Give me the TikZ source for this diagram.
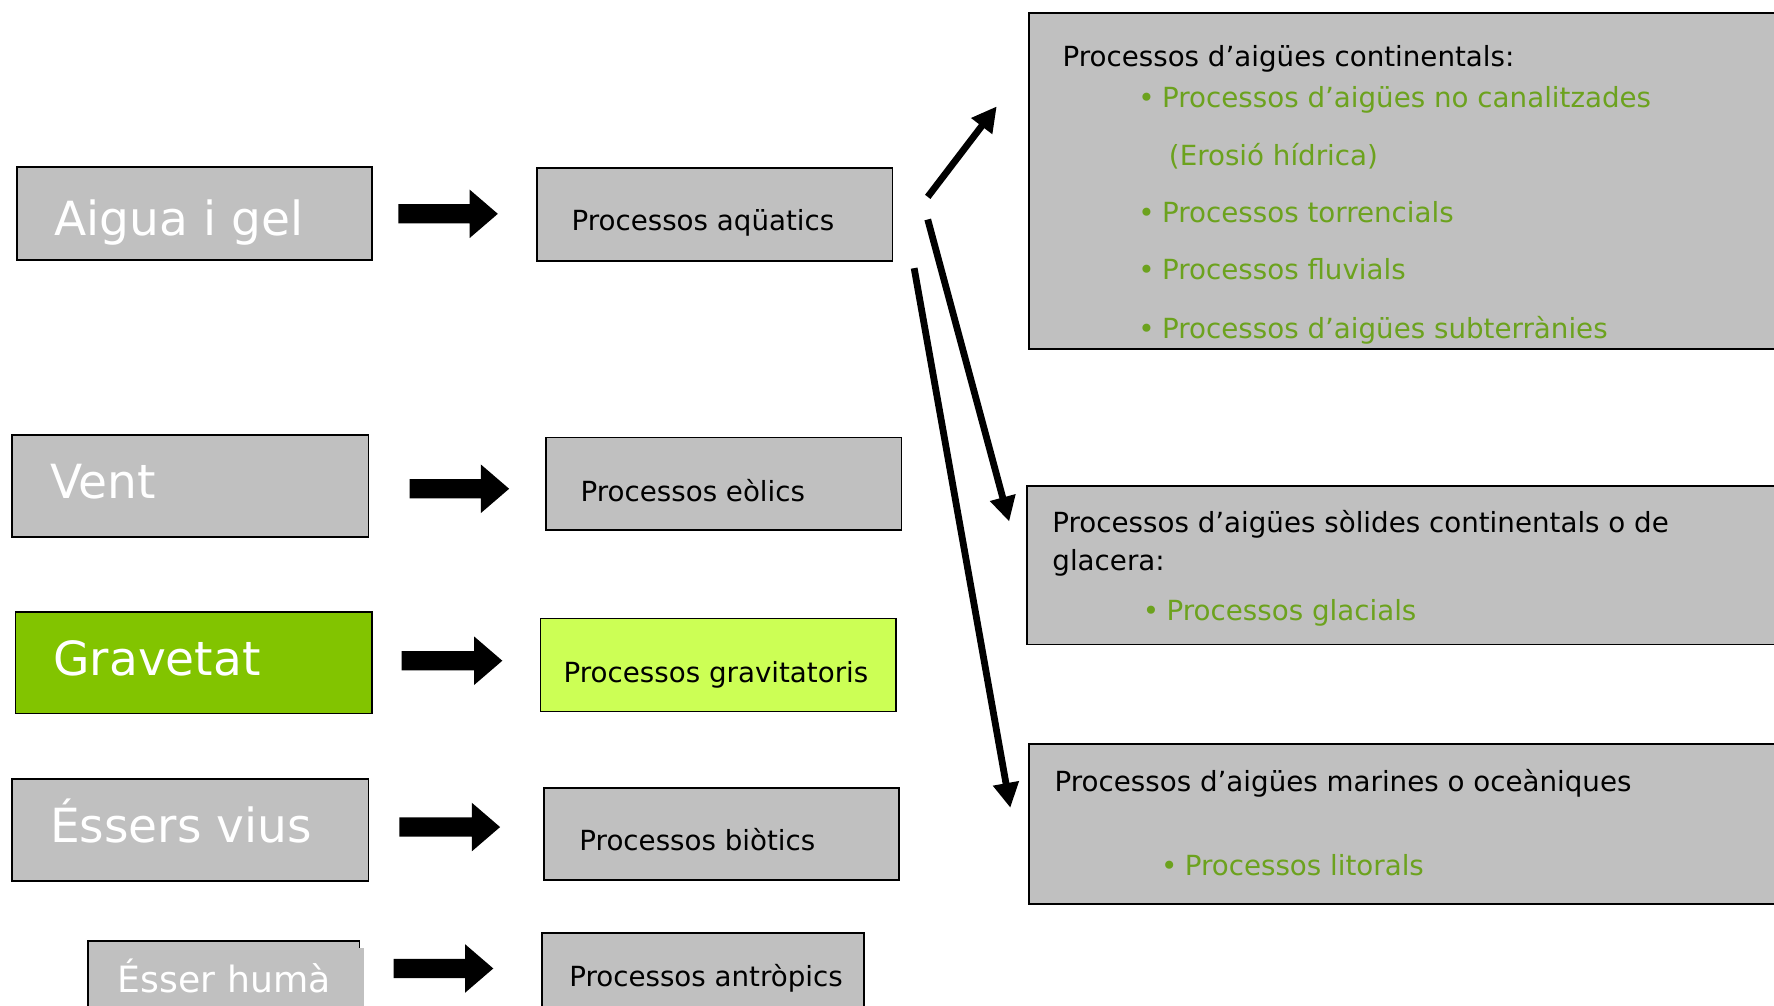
\documentclass[tikz,border=0pt]{standalone}
\usepackage{fontspec}
\setmainfont{DejaVu Sans}
\usetikzlibrary{arrows.meta}
\definecolor{boxgray}{RGB}{192,192,192}
\definecolor{leafgreen}{RGB}{130,196,0}
\definecolor{limefill}{RGB}{204,255,85}
\definecolor{itemgreen}{RGB}{108,162,30}
\begin{document}
\begin{tikzpicture}[x=1pt,y=-1pt,
  box/.style={draw=black, line width=1.5pt, fill=boxgray, anchor=north west, inner sep=0pt},
  bigtxt/.style={anchor=base west, inner sep=0pt, text=white, font=\fontsize{41.6}{48}\selectfont},
  smalltxt/.style={anchor=base west, inner sep=0pt, text=white, font=\fontsize{32}{38}\selectfont},
  midtxt/.style={anchor=base west, inner sep=0pt, text=black, font=\fontsize{24.5}{30}\selectfont},
  itemtxt/.style={midtxt, text=itemgreen},
  bul/.style={midtxt, text=itemgreen},
  thinarrow/.style={line width=6pt, -{Triangle[length=22pt,width=22pt]}},
  pics/fatarrow/.style={code={
    \fill[black] (0,-8.5) -- (#1-25,-8.5) -- (#1-25,-21.5) -- (#1,0)
      -- (#1-25,21.5) -- (#1-25,8.5) -- (0,8.5) -- cycle;}}
]
\useasboundingbox (0,0) rectangle (1568,889);
\clip (0,0) rectangle (1568,889);

% agents (left column)
\node[box, minimum width=314pt, minimum height=82pt] (aigua) at (14,147) {};
\node[bigtxt] (aiguat) at (48,208) {Aigua i gel};
\node[box, minimum width=315pt, minimum height=90pt] (vent) at (10,384) {};
\node[bigtxt] (ventt) at (44,441) {Vent};
\node[box, fill=leafgreen, minimum width=315pt, minimum height=90pt] (grav) at (13,540) {};
\node[bigtxt] (gravt) at (47,597) {Gravetat};
\node[box, minimum width=315pt, minimum height=90pt] (vius) at (10,688) {};
\node[bigtxt] (viust) at (44,745) {Éssers vius};
\node[box, minimum width=240pt, minimum height=80pt] (huma) at (77,831) {};
\fill[boxgray] (100,838) rectangle (322,895);
\node[smalltxt] (humat) at (104,877) {Ésser humà};

% processes (middle column)
\node[box, minimum width=314pt, minimum height=82pt] (aq) at (474,148) {};
\node[midtxt] (aqt) at (505,204) {Processos aqüatics};
\node[box, minimum width=314pt, minimum height=82pt] (eol) at (482,386) {};
\node[midtxt] (eolt) at (513,443) {Processos eòlics};
\node[box, fill=limefill, minimum width=314pt, minimum height=82pt] (gra) at (477,546) {};
\node[midtxt] (grat) at (498,603) {Processos gravitatoris};
\node[box, minimum width=314pt, minimum height=81pt] (bio) at (480,696) {};
\node[midtxt] (biot) at (512,752) {Processos biòtics};
\node[box, minimum width=285pt, minimum height=80pt] (ant) at (478,824) {};
\node[midtxt] (antt) at (503,872) {Processos antròpics};

% block arrows between the two columns
\pic at (352,189) {fatarrow=88};
\pic at (362,432) {fatarrow=88};
\pic at (355,584) {fatarrow=89};
\pic at (353,731) {fatarrow=89};
\pic at (348,856) {fatarrow=88};

% kinds of aquatic processes (right column)
\node[box, minimum width=680pt, minimum height=297pt] (cont) at (909,11) {};
\node[midtxt] (contt) at (939,59) {Processos d’aigües continentals:};
\node[bul] (cb1) at (1006,95) {•};
\node[itemtxt] (ci1) at (1027,95) {Processos d’aigües no canalitzades};
\node[itemtxt] (ci1b) at (1033,146) {(Erosió hídrica)};
\node[bul] (cb2) at (1006,197) {•};
\node[itemtxt] (ci2) at (1027,197) {Processos torrencials};
\node[bul] (cb3) at (1006,247) {•};
\node[itemtxt] (ci3) at (1027,247) {Processos fluvials};
\node[bul] (cb4) at (1006,299) {•};
\node[itemtxt] (ci4) at (1027,299) {Processos d’aigües subterrànies};

\node[box, minimum width=680pt, minimum height=140pt] (sol) at (907,429) {};
\node[midtxt] (solt) at (930,471) {Processos d’aigües sòlides continentals o de};
\node[midtxt] (solt2) at (930,504) {glacera:};
\node[bul] (sb1) at (1010,548) {•};
\node[itemtxt] (si1) at (1031,548) {Processos glacials};

\node[box, minimum width=680pt, minimum height=141pt] (mar) at (909,657) {};
\node[midtxt] (mart) at (932,700) {Processos d’aigües marines o oceàniques};
\node[bul] (mb1) at (1026,774) {•};
\node[itemtxt] (mi1) at (1047,774) {Processos litorals};

% branching arrows from the aquatic processes
\coordinate (s1) at (820,174);
\coordinate (e1) at (881,94);
\coordinate (s2) at (820,194);
\coordinate (e2) at (892,461);
\coordinate (s3) at (808,237);
\coordinate (e3) at (893,714);
\draw[thinarrow] (s1) -- (e1);
\draw[thinarrow] (s2) -- (e2);
\draw[thinarrow] (s3) -- (e3);
\end{tikzpicture}
\end{document}
